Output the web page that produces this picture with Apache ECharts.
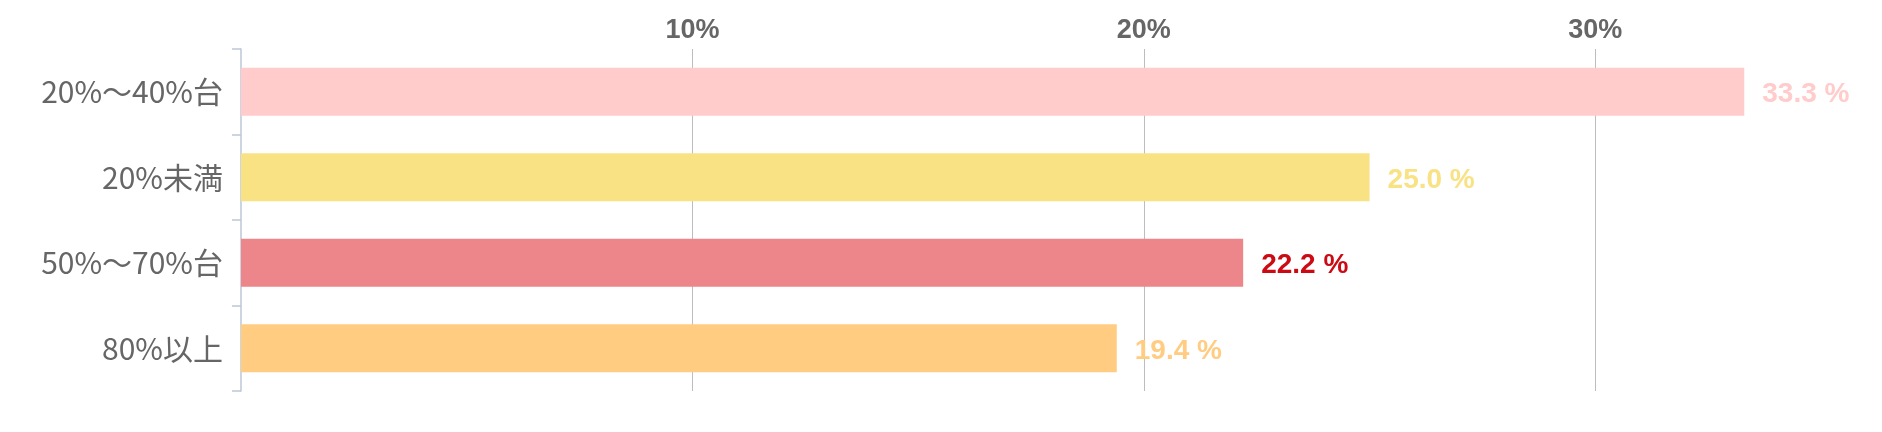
<!DOCTYPE html>
<html>
<head>
<meta charset="utf-8">
<script src="https://cdn.jsdelivr.net/npm/echarts@6/dist/echarts.min.js"></script>
<style>
html,body{margin:0;padding:0;background:#fff;}
#chart{width:1882px;height:432px;}
</style>
</head>
<body>
<div id="chart"></div>
<script>
const categories = ['20%～40%台', '20%未満', '50%～70%台', '80%以上'];
const values = [33.3, 25.0, 22.2, 19.4];
const barColors = ['#FFCBCB', '#F8E283', '#EC868A', '#FFCC82'];
const labelColors = ['#FFCBCB', '#F8E283', '#CC0A14', '#FFCC82'];
const tickValues = [10, 20, 30];

const chart = echarts.init(document.getElementById('chart'));
chart.setOption({
  animation: false,
  grid: { left: 241, right: 61, top: 49, bottom: 41, containLabel: false },
  xAxis: {
    type: 'value',
    position: 'top',
    min: 0,
    max: 35,
    interval: 10,
    axisLine: { show: false },
    axisTick: { show: false },
    splitLine: { show: true, showMinLine: false, showMaxLine: false, lineStyle: { color: '#bdbdbd', width: 1 } },
    axisLabel: {
      margin: 5,
      color: '#666666',
      fontSize: 27,
      fontWeight: 'bold',
      fontFamily: 'Liberation Sans, Arial, sans-serif',
      formatter: function (v) { return tickValues.indexOf(v) >= 0 ? v + '%' : ''; }
    }
  },
  yAxis: {
    type: 'category',
    inverse: true,
    data: categories,
    axisLine: { show: true, lineStyle: { color: '#bcc7d6', width: 1.5 } },
    axisTick: { show: true, length: 9, lineStyle: { color: '#bcc7d6', width: 1.5 } },
    axisLabel: {
      margin: 18,
      color: '#666666',
      fontSize: 30,
      fontFamily: '"Noto Sans CJK JP", sans-serif'
    }
  },
  series: [{
    type: 'bar',
    barWidth: 48,
    data: values.map(function (v, i) {
      return {
        value: v,
        itemStyle: { color: barColors[i] },
        label: { color: labelColors[i] }
      };
    }),
    label: {
      show: true,
      position: 'right',
      distance: 18,
      offset: [0, 3],
      fontSize: 28,
      fontWeight: 'bold',
      fontFamily: 'Liberation Sans, Arial, sans-serif',
      formatter: function (p) { return p.value.toFixed(1) + ' %'; }
    }
  }]
});
</script>
</body>
</html>
